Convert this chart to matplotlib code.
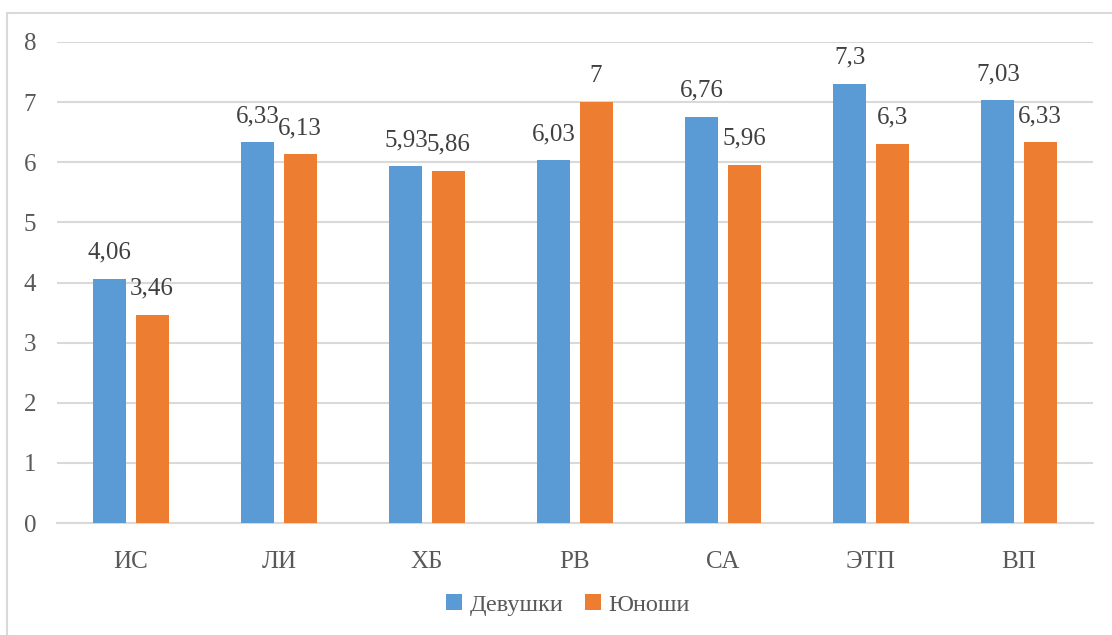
import matplotlib.pyplot as plt
import numpy as np
from matplotlib.patches import Rectangle

plt.rcParams['font.family'] = ['Liberation Serif', 'DejaVu Serif']

categories = ['ИС', 'ЛИ', 'ХБ', 'РВ', 'СА', 'ЭТП', 'ВП']
girls = [4.06, 6.33, 5.93, 6.03, 6.76, 7.3, 7.03]
boys = [3.46, 6.13, 5.86, 7, 5.96, 6.3, 6.33]
girls_lbl = ['4,06', '6,33', '5,93', '6,03', '6,76', '7,3', '7,03']
boys_lbl = ['3,46', '6,13', '5,86', '7', '5,96', '6,3', '6,33']

blue = '#5b9bd5'
orange = '#ed7d31'
txt = '#595959'
grid = '#d9d9d9'

fig = plt.figure(figsize=(11.12, 6.35), dpi=100)
ax = fig.add_axes([57/1112, 1 - 523/635, (1093-57)/1112, (523-42)/635])

x = np.arange(len(categories))
w = 0.223
off = 0.1425
b1 = ax.bar(x - off, girls, w, color=blue, label='Девушки', zorder=3)
b2 = ax.bar(x + off, boys, w, color=orange, label='Юноши', zorder=3)

for bars, lbls in ((b1, girls_lbl), (b2, boys_lbl)):
    for r, s in zip(bars, lbls):
        ax.annotate(s, (r.get_x() + r.get_width()/2, r.get_height()),
                    xytext=(0, 11), textcoords='offset points',
                    ha='center', va='bottom', fontsize=18, color='#404040')

ax.set_xlim(-0.5, len(categories) - 0.5)
ax.set_ylim(0, 8)
ax.set_yticks(range(0, 9))
ax.set_xticks(x)
ax.set_xticklabels(categories)
ax.tick_params(axis='both', length=0, labelsize=18, colors=txt)
ax.tick_params(axis='x', pad=20)
ax.tick_params(axis='y', pad=15)
ax.yaxis.grid(True, color=grid, lw=1.5, zorder=0)
for sp in ['top', 'right', 'left']:
    ax.spines[sp].set_visible(False)
ax.spines['bottom'].set_color(grid)
ax.spines['bottom'].set_linewidth(1.5)

ax.legend(loc='center', bbox_to_anchor=(568/1112, 1 - 605/635),
          bbox_transform=fig.transFigure, ncol=2, frameon=False,
          fontsize=17.5, handlelength=0.65, handleheight=0.65,
          handletextpad=0.3, columnspacing=0.9, labelcolor=txt)

fig.patches.append(Rectangle((7/1112, -0.05), 1.2, 1 - 13/635 + 0.05,
                             transform=fig.transFigure, fill=False,
                             edgecolor=grid, lw=1.5))

fig.savefig('out.png', dpi=100, facecolor='white')
